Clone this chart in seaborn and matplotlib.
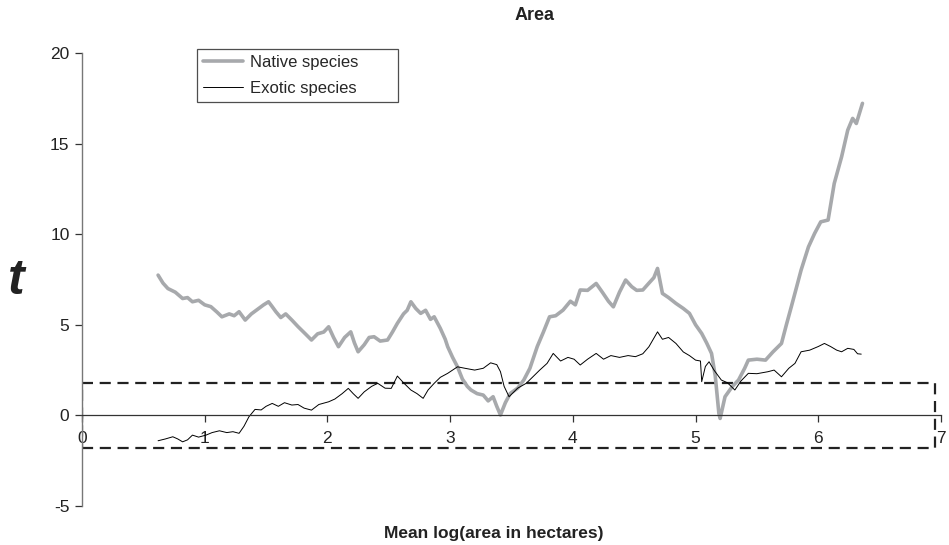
import numpy as np
import pandas as pd
import matplotlib
matplotlib.use("Agg")
import matplotlib.pyplot as plt
from matplotlib.patches import Rectangle
import seaborn as sns

# ==========================================
# DATA
# ==========================================

native_x = [0.62, 0.66, 0.70, 0.76, 0.82, 0.86, 0.90, 0.95, 1.00, 1.05, 1.10, 1.14,
            1.20, 1.24, 1.28, 1.33, 1.38, 1.44, 1.48, 1.52, 1.55, 1.58, 1.62, 1.66,
            1.71, 1.76, 1.82, 1.87, 1.92, 1.97, 2.01, 2.05, 2.09, 2.14, 2.19, 2.22,
            2.25, 2.30, 2.34, 2.38, 2.43, 2.49, 2.53, 2.57, 2.62, 2.65, 2.68, 2.72,
            2.76, 2.80, 2.84, 2.87, 2.92, 2.96, 2.98, 3.02, 3.06, 3.10, 3.14, 3.17,
            3.22, 3.27, 3.31, 3.35, 3.38, 3.41, 3.45, 3.49, 3.55, 3.60, 3.65, 3.71,
            3.76, 3.81, 3.86, 3.92, 3.98, 4.02, 4.06, 4.12, 4.19, 4.24, 4.29, 4.33,
            4.38, 4.43, 4.48, 4.52, 4.57, 4.62, 4.66, 4.69, 4.73, 4.78, 4.84, 4.90,
            4.95, 5.00, 5.05, 5.09, 5.13, 5.16, 5.19, 5.20, 5.24, 5.30, 5.35, 5.40,
            5.43, 5.50, 5.57, 5.63, 5.70, 5.74, 5.78, 5.82, 5.86, 5.92, 5.97, 6.02,
            6.08, 6.13, 6.19, 6.24, 6.28, 6.31, 6.36]
native_t = [7.74, 7.30, 7.00, 6.80, 6.45, 6.50, 6.27, 6.35, 6.10, 6.00, 5.70, 5.44,
            5.60, 5.50, 5.72, 5.26, 5.60, 5.90, 6.10, 6.27, 6.00, 5.72, 5.40, 5.60,
            5.26, 4.90, 4.50, 4.16, 4.50, 4.60, 4.89, 4.30, 3.79, 4.30, 4.61, 4.00,
            3.51, 3.90, 4.30, 4.34, 4.10, 4.16, 4.60, 5.08, 5.60, 5.80, 6.27, 5.90,
            5.63, 5.80, 5.30, 5.44, 4.80, 4.20, 3.79, 3.20, 2.68, 2.00, 1.60, 1.40,
            1.20, 1.12, 0.80, 1.03, 0.50, 0.02, 0.70, 1.21, 1.50, 1.95, 2.60, 3.80,
            4.60, 5.44, 5.50, 5.81, 6.30, 6.10, 6.92, 6.90, 7.28, 6.80, 6.30, 5.99,
            6.80, 7.47, 7.10, 6.90, 6.92, 7.30, 7.60, 8.11, 6.73, 6.50, 6.18, 5.90,
            5.63, 5.00, 4.52, 4.00, 3.42, 2.20, 0.11, -0.17, 1.03, 1.60, 1.95, 2.60,
            3.05, 3.10, 3.05, 3.50, 3.97, 5.00, 5.99, 7.00, 8.02, 9.30, 10.04, 10.68,
            10.78, 12.80, 14.27, 15.74, 16.39, 16.11, 17.22]

exotic_x = [0.62, 0.68, 0.74, 0.78, 0.82, 0.86, 0.90, 0.95, 1.01, 1.06, 1.12, 1.18,
            1.23, 1.28, 1.32, 1.36, 1.41, 1.46, 1.50, 1.55, 1.60, 1.65, 1.71, 1.76,
            1.81, 1.87, 1.93, 2.01, 2.06, 2.12, 2.17, 2.21, 2.25, 2.30, 2.36, 2.41,
            2.47, 2.52, 2.57, 2.62, 2.68, 2.73, 2.78, 2.82, 2.87, 2.92, 2.98, 3.06,
            3.12, 3.20, 3.27, 3.33, 3.38, 3.41, 3.44, 3.48, 3.55, 3.62, 3.67, 3.73,
            3.79, 3.84, 3.90, 3.96, 4.01, 4.06, 4.12, 4.19, 4.25, 4.31, 4.38, 4.45,
            4.51, 4.57, 4.62, 4.69, 4.73, 4.78, 4.84, 4.90, 4.95, 5.00, 5.04, 5.05,
            5.08, 5.11, 5.15, 5.21, 5.26, 5.32, 5.37, 5.43, 5.50, 5.59, 5.64, 5.70,
            5.76, 5.81, 5.86, 5.93, 6.00, 6.05, 6.10, 6.15, 6.19, 6.24, 6.29, 6.32,
            6.35]
exotic_t = [-1.40, -1.30, -1.18, -1.30, -1.46, -1.35, -1.09, -1.20, -1.09, -0.95, -0.85, -0.95,
            -0.90, -0.99, -0.60, -0.08, 0.33, 0.30, 0.50, 0.66, 0.50, 0.70, 0.57, 0.60,
            0.40, 0.29, 0.60, 0.75, 0.90, 1.20, 1.49, 1.20, 0.94, 1.30, 1.60, 1.77,
            1.50, 1.49, 2.17, 1.80, 1.40, 1.20, 0.94, 1.40, 1.77, 2.10, 2.32, 2.68,
            2.60, 2.50, 2.60, 2.90, 2.80, 2.41, 1.60, 1.03, 1.50, 1.77, 2.10, 2.50,
            2.87, 3.42, 3.00, 3.20, 3.10, 2.78, 3.10, 3.42, 3.10, 3.30, 3.20, 3.30,
            3.24, 3.40, 3.79, 4.61, 4.20, 4.30, 3.97, 3.50, 3.30, 3.05, 3.00, 1.86,
            2.70, 2.96, 2.50, 1.95, 1.80, 1.40, 1.90, 2.32, 2.30, 2.41, 2.50, 2.13,
            2.60, 2.87, 3.51, 3.60, 3.80, 3.97, 3.80, 3.60, 3.51, 3.70, 3.64, 3.40,
            3.38]

x_ticks = [0, 1, 2, 3, 4, 5, 6, 7]
y_ticks = [-5, 0, 5, 10, 15, 20]
crit_t = 1.8

native_df = pd.DataFrame({"x": native_x, "t": native_t})
exotic_df = pd.DataFrame({"x": exotic_x, "t": exotic_t})

# ==========================================
# PLOT
# ==========================================

sns.set_style("white")
plt.rcParams["font.family"] = ["Liberation Sans", "DejaVu Sans"]
plt.rcParams["axes.unicode_minus"] = False

fig = plt.figure(figsize=(9.49, 5.45), dpi=100)
ax = fig.add_axes([82 / 949, 0.0716, (941 - 82) / 949, 0.8312])

sns.lineplot(data=native_df, x="x", y="t", ax=ax, color="#a7a9ac", lw=2.6,
             sort=False, estimator=None, label="Native species")
sns.lineplot(data=exotic_df, x="x", y="t", ax=ax, color="black", lw=0.7,
             sort=False, estimator=None, label="Exotic species")

# critical t band
ax.add_patch(Rectangle((0, -crit_t), 6.95, 2 * crit_t, fill=False,
                       ec="#222222", lw=1.6, ls=(0, (5, 3)), zorder=1))

ax.set_xlim(0, 7)
ax.set_ylim(-5, 20)
ax.set_xticks(x_ticks)
ax.set_yticks(y_ticks)
ax.set_xlabel("")
ax.set_ylabel("")

ax.spines["top"].set_visible(False)
ax.spines["right"].set_visible(False)
ax.spines["bottom"].set_position(("data", 0))
ax.spines["bottom"].set_color("#333333")
ax.spines["bottom"].set_linewidth(0.9)
ax.spines["left"].set_color("#777777")
ax.spines["left"].set_linewidth(1.0)

ax.tick_params(axis="x", direction="out", length=5, width=0.9, color="#333333",
               labelsize=12.5, pad=6, labelcolor="#222222")
ax.tick_params(axis="y", direction="out", length=5, width=0.9, color="#333333",
               labelsize=12.5, pad=4, labelcolor="#222222")
ax.tick_params(axis="both", which="both", bottom=True, left=True)

leg = ax.legend(loc="upper left",
                bbox_to_anchor=(197 / 949, 1 - 103 / 545, 201 / 949, 54 / 545),
                bbox_transform=fig.transFigure, mode="expand", frameon=True,
                fancybox=False, fontsize=12, handlelength=2.4, borderpad=0.35,
                labelspacing=0.65, handletextpad=0.45, borderaxespad=0)
leg.get_frame().set_edgecolor("#222222")
leg.get_frame().set_linewidth(0.9)

fig.text(0.563, 0.972, "Area", ha="center", va="center", fontsize=13,
         fontweight="bold", color="#222222")
fig.text(0.52, 0.022, "Mean log(area in hectares)", ha="center", va="center",
         fontsize=12.5, fontweight="bold", color="#222222")
fig.text(0.017, 0.484, "t", ha="center", va="center", fontsize=36,
         fontweight="bold", fontstyle="italic", color="#222222")

plt.savefig("out.png", dpi=100)
